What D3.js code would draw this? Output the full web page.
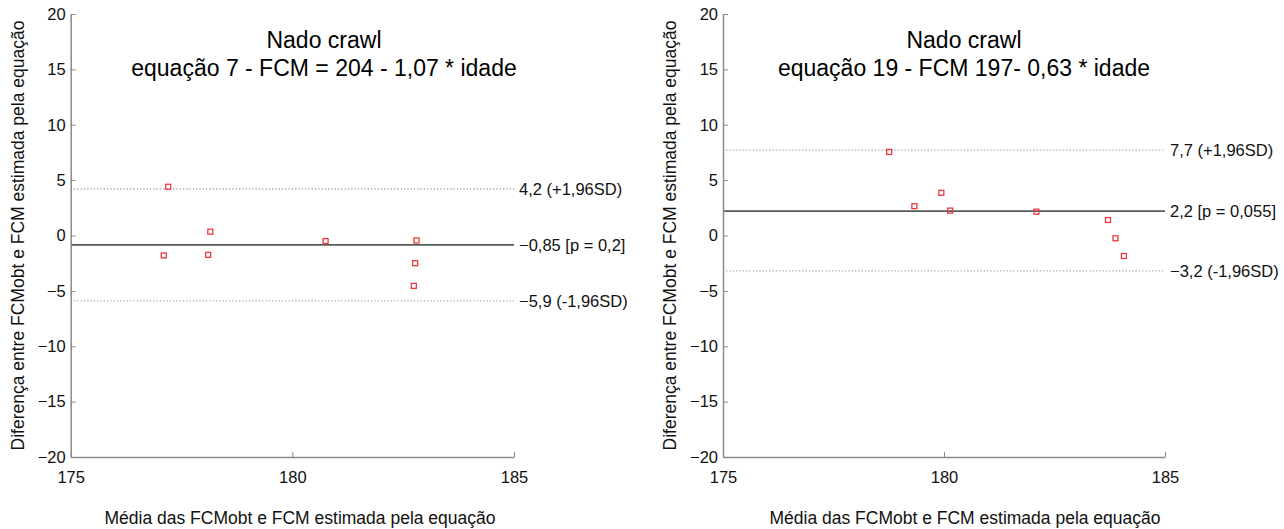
<!DOCTYPE html>
<html>
<head>
<meta charset="utf-8">
<script src="https://cdn.jsdelivr.net/npm/d3@7/dist/d3.min.js"></script>
<style>
  html, body { margin: 0; padding: 0; background: #fff; }
  svg { display: block; font-family: "Liberation Sans", Arial, Helvetica, sans-serif; }
</style>
</head>
<body>
<div id="chart"></div>
<script>
// ── Data ──
const xTickValues = [175, 180, 185];
const yTickValues = [-20, -15, -10, -5, 0, 5, 10, 15, 20];

// Panel 1: equação 7
const eq7Mean = [177.2, 177.1, 178.15, 178.1, 180.75, 182.8, 182.77, 182.74];
const eq7Diff = [4.4, -1.8, 0.35, -1.75, -0.5, -0.45, -2.5, -4.55];
const eq7Lines = [4.2, -0.85, -5.9];
const eq7LineLabels = ["4,2 (+1,96SD)", "\u22120,85 [p = 0,2]", "\u22125,9 (-1,96SD)"];

// Panel 2: equação 19
const eq19Mean = [178.76, 179.33, 179.94, 180.14, 182.09, 183.71, 183.88, 184.07];
const eq19Diff = [7.55, 2.65, 3.85, 2.25, 2.15, 1.4, -0.25, -1.85];
const eq19Lines = [7.7, 2.2, -3.2];
const eq19LineLabels = ["7,7 (+1,96SD)", "2,2 [p = 0,055]", "\u22123,2 (-1,96SD)"];

const titleLine1 = "Nado crawl";
const xLabel = "Média das FCMobt e FCM estimada pela equação";
const yLabel = "Diferença entre FCMobt e FCM estimada pela equação";

(function () {
  const W = 1284, H = 529;
  const top = 14, bottom = 457;

  const panels = [
    { x0: 70.7, x1: 514, mean: eq7Mean, diff: eq7Diff, lines: eq7Lines, labels: eq7LineLabels,
      title2: "equação 7 - FCM = 204 - 1,07 * idade", titleX: 324, xLabX: 300, yLabX: 24 },
    { x0: 723, x1: 1165, mean: eq19Mean, diff: eq19Diff, lines: eq19Lines, labels: eq19LineLabels,
      title2: "equação 19 - FCM 197- 0,63 * idade", titleX: 964, xLabX: 965, yLabX: 676 }
  ];

  const svg = d3.select("#chart").append("svg")
    .attr("width", W).attr("height", H);

  const axisColor = "#8a8a8a";

  panels.forEach(function (p) {
    const x = d3.scaleLinear().domain([175, 185]).range([p.x0, p.x1]);
    const y = d3.scaleLinear().domain([-20, 20]).range([bottom, top]);
    const g = svg.append("g");

    // ── Reference lines (mean and ±1,96SD) ──
    p.lines.forEach(function (v, i) {
      const isMean = i === 1;
      g.append("line")
        .attr("x1", x(175)).attr("x2", x(185))
        .attr("y1", y(v)).attr("y2", y(v))
        .attr("stroke", isMean ? "#5a5a5a" : "#a8a8a8")
        .attr("stroke-width", isMean ? 1.6 : 1.3)
        .attr("stroke-dasharray", isMean ? null : "1.3,2");
      g.append("text")
        .attr("x", x(185) + 5).attr("y", y(v))
        .attr("dy", "0.35em")
        .attr("font-size", "16.5px").attr("fill", "#111")
        .text(p.labels[i]);
    });

    // ── Axes (left + bottom, ticks inward) ──
    const xAxis = g.append("g")
      .attr("transform", `translate(0,${bottom})`)
      .call(d3.axisBottom(x).tickValues(xTickValues).tickSizeInner(-5).tickSizeOuter(0).tickPadding(14));
    const yAxis = g.append("g")
      .attr("transform", `translate(${p.x0},0)`)
      .call(d3.axisLeft(y).tickValues(yTickValues).tickSizeInner(-5).tickSizeOuter(0).tickPadding(4));

    [xAxis, yAxis].forEach(function (a) {
      a.select(".domain").attr("stroke", axisColor).attr("stroke-width", 1.5);
      a.selectAll(".tick line").attr("stroke", axisColor).attr("stroke-width", 1);
      a.selectAll(".tick text").attr("fill", "#111").attr("font-size", "16.5px")
        .attr("font-family", "Liberation Sans, Arial, sans-serif");
    });
    yAxis.selectAll(".tick text").attr("dx", "-1");

    // ── Points: open red squares ──
    const s = 5;
    g.selectAll("rect.pt")
      .data(p.mean.map((m, i) => ({ m: m, d: p.diff[i] })))
      .enter().append("rect")
      .attr("class", "pt")
      .attr("x", d => x(d.m) - s / 2)
      .attr("y", d => y(d.d) - s / 2)
      .attr("width", s).attr("height", s)
      .attr("fill", "none")
      .attr("stroke", "#f0393d").attr("stroke-width", 1.3);

    // ── Titles ──
    g.append("text")
      .attr("x", p.titleX).attr("y", 48)
      .attr("text-anchor", "middle")
      .attr("font-size", "23px").attr("fill", "#000")
      .text(titleLine1);
    g.append("text")
      .attr("x", p.titleX).attr("y", 76)
      .attr("text-anchor", "middle")
      .attr("font-size", "23px").attr("fill", "#000")
      .text(p.title2);

    // ── Axis labels ──
    g.append("text")
      .attr("x", p.xLabX).attr("y", 524)
      .attr("text-anchor", "middle")
      .attr("font-size", "17.5px").attr("fill", "#111")
      .text(xLabel);
    g.append("text")
      .attr("transform", `translate(${p.yLabX},${(top + bottom) / 2}) rotate(-90)`)
      .attr("text-anchor", "middle")
      .attr("font-size", "17.5px").attr("fill", "#111")
      .text(yLabel);
  });
})();
</script>
</body>
</html>
